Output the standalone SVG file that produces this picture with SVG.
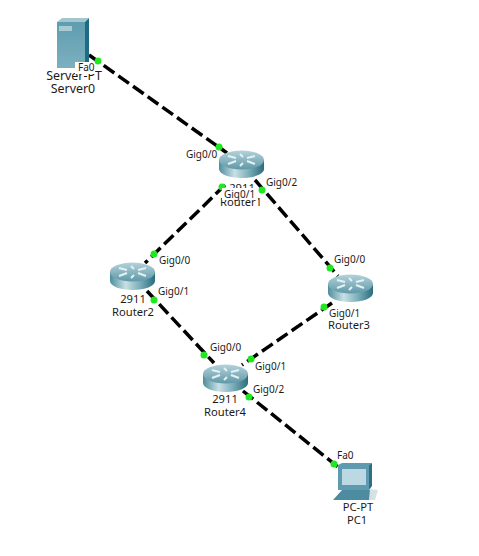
<svg xmlns="http://www.w3.org/2000/svg" width="479" height="556" viewBox="0 0 479 556">
<style>
text{font-family:"Noto Sans","Liberation Sans",sans-serif;font-size:10px;fill:#1a1a1a}
.m{text-anchor:middle;font-size:11.200px}
.s{font-size:12.400px}
.link{fill:none;stroke:#000;stroke-width:3.500;stroke-dasharray:13 5}
.dot{fill:#1fe81f}
.mask{fill:#fff}
</style>
<defs>
<linearGradient id="rs" x1="0" x2="1" y1="0" y2="0"><stop offset="0" stop-color="#4f8d9d"/><stop offset=".35" stop-color="#c8e0e5"/><stop offset=".65" stop-color="#7fb0bb"/><stop offset="1" stop-color="#2a6c7e"/></linearGradient>
<linearGradient id="rt" x1="0" x2="0" y1="0" y2="1"><stop offset="0" stop-color="#b4d3da"/><stop offset="1" stop-color="#5f98a8"/></linearGradient>
<linearGradient id="sv" x1="0" x2="0" y1="0" y2="1"><stop offset="0" stop-color="#5e9db0"/><stop offset="1" stop-color="#7db0bf"/></linearGradient>
<g id="router">
<path d="M0 9V18C0 23 10 27 22.500 27S45 23 45 18V9Z" fill="url(#rs)"/>
<ellipse cx="22.500" cy="9" rx="22.500" ry="9.500" fill="url(#rt)"/>
<path d="M9 5l8 2 M9 13l8-3 M36 5l-8 2 M36 13l-8-3 M21 3l3 3 M21 15l3-3" stroke="#e4f1f3" stroke-width="2" fill="none"/>
</g>
</defs>
<rect width="479" height="556" fill="#fff"/>
<g id="connectors">
<path class="link" d="M89 55L227 153"/>
<path class="link" d="M225 185L145 263"/>
<path class="link" d="M255 180L338 276"/>
<path class="link" d="M147 291L214 363"/>
<path class="link" d="M332 303L242 365"/>
<path class="link" d="M243 391L338 467"/>
</g>
<g id="server0">
<path d="M57 22L62 18H89L85 22Z" fill="#a5c6cf"/>
<path d="M85 22L89 18V64L85 68Z" fill="#1d6c84"/>
<rect x="57" y="22" width="28" height="46" fill="url(#sv)"/>
<rect x="59" y="26" width="13" height="5" fill="#a8cbd4"/>
<text class="m s" x="74" y="80">Server-PT</text>
<text class="m s" x="73" y="93">Server0</text>
</g>
<g id="router1">
<use href="#router" x="219" y="151"/>
<text class="m" x="242" y="192">2911</text>
<text class="m" x="241" y="206">Router1</text>
</g>
<g id="router2">
<use href="#router" x="110" y="263"/>
<text class="m" x="133" y="303">2911</text>
<text class="m" x="133" y="316">Router2</text>
</g>
<g id="router3">
<use href="#router" x="328" y="275"/>
<text class="m" x="349" y="329">Router3</text>
</g>
<g id="router4">
<use href="#router" x="203" y="365"/>
<text class="m" x="225" y="403">2911</text>
<text class="m" x="225" y="416">Router4</text>
</g>
<g id="pc1">
<path d="M333 500L342 490H372L370 500Z" fill="#4d8ba0"/>
<path d="M370 489L378 490L375 500H369Z" fill="#d5e2e5"/>
<path d="M338 465L342 463H372L369 465V490H338Z" fill="#5f9bb0"/>
<path d="M369 465L372 463V486L369 490Z" fill="#2f6f85"/>
<path d="M342 469H366V485H342Z" fill="#bcd8e3"/>
<text class="m" x="358" y="511">PC-PT</text>
<text class="m" x="357" y="524">PC1</text>
</g>
<g id="ports">
<g class="dot"><circle cx="98" cy="61" r="3.500"/><circle cx="219" cy="147" r="3.500"/><circle cx="222" cy="187" r="3.500"/><circle cx="262" cy="190" r="3.500"/><circle cx="154" cy="254" r="3.500"/><circle cx="154" cy="300" r="3.500"/><circle cx="330" cy="268" r="3.500"/><circle cx="324" cy="307" r="3.500"/><circle cx="204" cy="355" r="3.500"/><circle cx="251" cy="359" r="3.500"/><circle cx="249" cy="397" r="3.500"/><circle cx="334" cy="464" r="3.500"/></g>
<rect class="mask" x="75" y="62" width="20" height="12"/>
<text x="78" y="71">Fa0</text>
<text x="186" y="158">Gig0/0</text>
<rect class="mask" x="222" y="188" width="36" height="12"/>
<text x="224" y="198">Gig0/1</text>
<text x="266" y="186">Gig0/2</text>
<text x="159" y="264">Gig0/0</text>
<text x="158" y="295">Gig0/1</text>
<text x="334" y="263">Gig0/0</text>
<text x="329" y="317">Gig0/1</text>
<text x="210" y="351">Gig0/0</text>
<text x="255" y="370">Gig0/1</text>
<text x="253" y="393">Gig0/2</text>
<text x="337" y="459">Fa0</text>
</g>
</svg>
